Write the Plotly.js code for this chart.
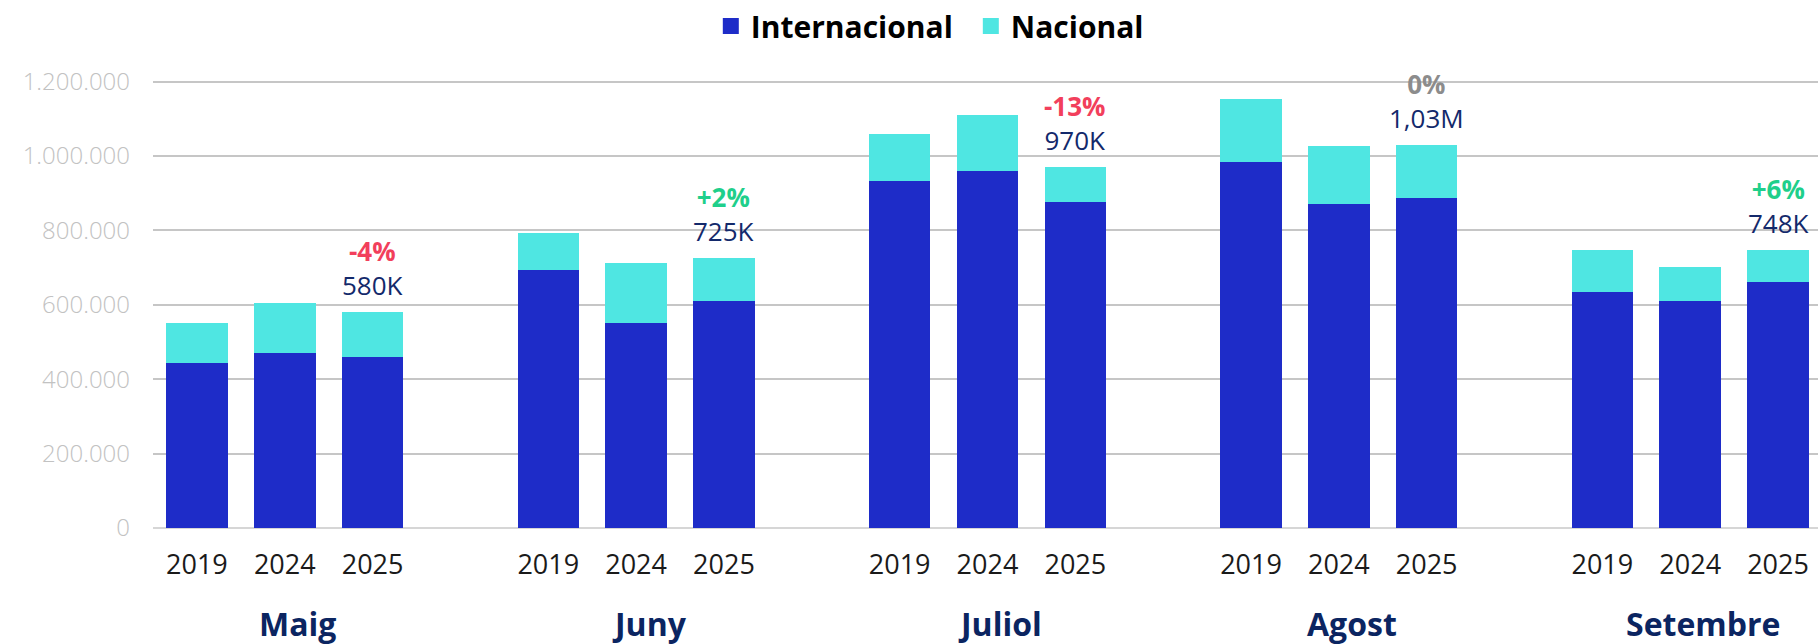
<!DOCTYPE html>
<html>
<head>
<meta charset="utf-8">
<script src="https://cdn.plot.ly/plotly-3.0.1.min.js"></script>
<style>
  html, body { margin: 0; padding: 0; background: #ffffff; }
  #chart { width: 1818px; height: 644px; }
</style>
</head>
<body>
<div id="chart"></div>
<script>
// ---- data ----
const months = ['Maig', 'Juny', 'Juliol', 'Agost', 'Setembre'];
const years = ['2019', '2024', '2025'];
// month-major order: Maig 2019, Maig 2024, Maig 2025, Juny 2019, ...
const internacional = [443000, 471000, 460000, 694000, 550000, 609000, 933000, 960000, 877000, 985000, 870000, 888000, 634000, 611000, 661000];
const nacional = [109000, 134000, 120000, 100000, 162000, 116000, 127000, 150000, 93000, 169000, 158000, 142000, 114000, 91000, 87000];
const totalLabels = ['580K', '725K', '970K', '1,03M', '748K'];
const changeLabels = ['-4%', '+2%', '-13%', '0%', '+6%'];
const yTicks = [0, 200000, 400000, 600000, 800000, 1000000, 1200000];

// ---- build categorical x with a blank slot after each month ----
const xCats = [], yInt = [], yNac = [], barIds = [], barYears = [];
let k = 0;
months.forEach((m, mi) => {
  years.forEach((yr) => {
    const id = m + ' ' + yr;
    xCats.push(id); barIds.push(id); barYears.push(yr);
    yInt.push(internacional[k]); yNac.push(nacional[k]);
    k++;
  });
  if (mi < months.length - 1) {
    xCats.push('gap' + mi); yInt.push(null); yNac.push(null);
  }
});

const font = 'Open Sans, Lato, sans-serif';
const cInt = '#1e2cc8', cNac = '#4fe6e2';

const traces = [
  { type: 'bar', name: 'Internacional', x: xCats, y: yInt, marker: { color: cInt, line: { width: 0 } }, hoverinfo: 'skip', showlegend: false },
  { type: 'bar', name: 'Nacional', x: xCats, y: yNac, marker: { color: cNac, line: { width: 0 } }, hoverinfo: 'skip', showlegend: false },
  // legend keys (square swatches)
  { type: 'scatter', mode: 'markers', name: 'Internacional', x: [null], y: [null], marker: { symbol: 'square', size: 17, color: cInt }, showlegend: true, hoverinfo: 'skip' },
  { type: 'scatter', mode: 'markers', name: 'Nacional', x: [null], y: [null], marker: { symbol: 'square', size: 17, color: cNac }, showlegend: true, hoverinfo: 'skip' }
];

const annotations = [];
months.forEach((m, mi) => {
  const lastIdx = mi * 3 + 2;
  const total = internacional[lastIdx] + nacional[lastIdx];
  const ch = changeLabels[mi];
  const chColor = ch.startsWith('-') ? '#f23f5c' : (ch.startsWith('+') ? '#1fcf8b' : '#8c8c8c');
  annotations.push({
    x: m + ' 2025', y: total, xref: 'x', yref: 'y',
    text: '<span style="color:' + chColor + ';font-weight:bold;font-size:26px">' + ch + '</span><br>' + totalLabels[mi],
    showarrow: false, yanchor: 'bottom', yshift: 7, align: 'center',
    font: { family: font, size: 26, color: '#13296b' }
  });
  annotations.push({
    x: m + ' 2024', y: 0, xref: 'x', yref: 'paper', text: '<b>' + m + '</b>',
    showarrow: false, yanchor: 'middle', yshift: -95, xshift: 13,
    font: { family: font, size: 32, color: '#0b2561' }
  });
});

const layout = {
  width: 1818, height: 644,
  margin: { l: 153, r: 0, t: 63, b: 116 },
  paper_bgcolor: '#ffffff', plot_bgcolor: '#ffffff',
  barmode: 'stack', bargap: 0.30,
  separators: ',.',
  showlegend: true,
  legend: {
    orientation: 'h', xref: 'container', yref: 'container',
    x: 0.534, xanchor: 'center', y: 1, yanchor: 'top',
    font: { family: font, size: 30, color: '#000000', weight: 700 },
    traceorder: 'normal', itemclick: false,
    entrywidth: 215, entrywidthmode: 'pixels'
  },
  xaxis: {
    type: 'category', categoryorder: 'array', categoryarray: xCats,
    range: [-0.5, 18.455],
    tickmode: 'array', tickvals: barIds, ticktext: barYears,
    showgrid: false, zeroline: false, showline: false, ticks: '',
    ticklabelstandoff: 18,
    tickfont: { family: font, size: 27, color: '#1a1a1a' }
  },
  yaxis: {
    range: [0, 1250000],
    tickmode: 'array', tickvals: yTicks, tickformat: ',d',
    showgrid: true, gridcolor: '#c6c6c6', gridwidth: 2,
    zeroline: true, zerolinecolor: '#d6d6d6', zerolinewidth: 2,
    showline: false, ticks: '',
    ticklabelstandoff: 22,
    tickfont: { family: font, size: 24, color: '#c2c2c2', weight: 300 }
  },
  annotations: annotations
};

Plotly.newPlot('chart', traces, layout, { staticPlot: true, displayModeBar: false });
</script>
</body>
</html>
